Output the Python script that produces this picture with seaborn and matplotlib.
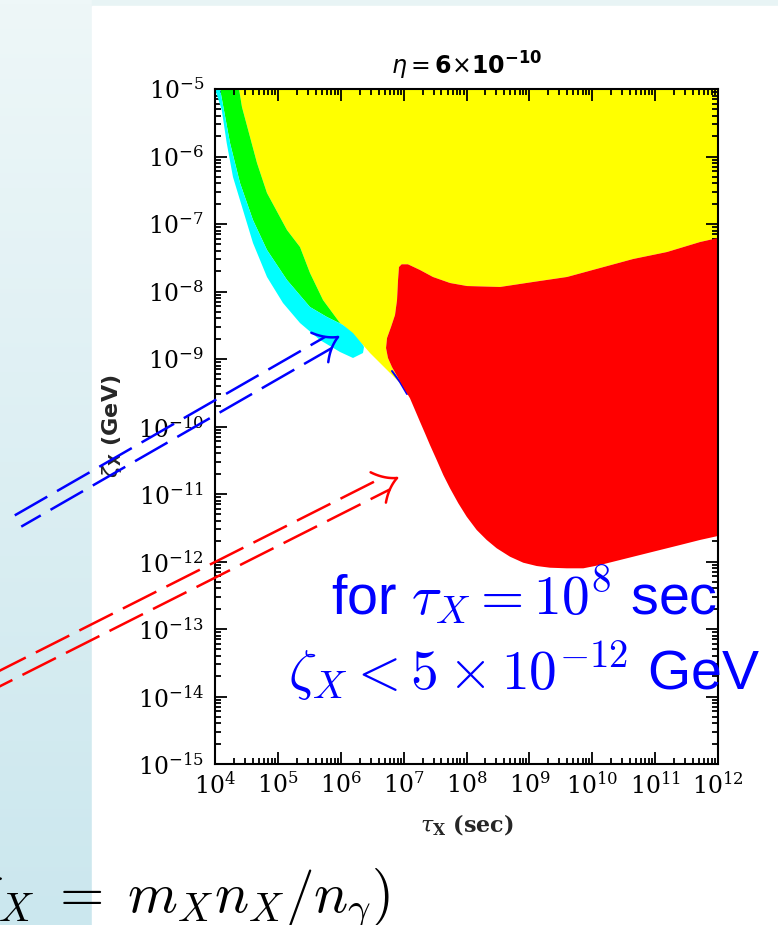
import numpy as np
import matplotlib
matplotlib.use("Agg")
import matplotlib.pyplot as plt
import seaborn as sns
from matplotlib.patches import Rectangle
from matplotlib.ticker import LogLocator, NullFormatter

# ---------------- data (log10 values) ----------------
# x = log10(tau_X / sec), y = log10(zeta_X / GeV)
cyan_outer_lt = [4.00, 4.107, 4.186, 4.286, 4.445, 4.604, 4.827, 5.081, 5.352, 5.670, 5.988, 6.195, 6.354, 6.370]
cyan_outer_lz = [-5.00, -5.311, -5.80, -6.304, -6.793, -7.281, -7.785, -8.170, -8.467, -8.719, -8.896, -8.985, -8.911, -8.822]
cyan_inner_lt = [4.08, 4.239, 4.398, 4.604, 4.827, 5.145, 5.511, 5.781, 6.036, 6.195, 6.354]
cyan_inner_lz = [-5.00, -5.80, -6.393, -6.941, -7.385, -7.830, -8.230, -8.378, -8.496, -8.615, -8.793]
green_edge_lt = [4.382, 4.429, 4.557, 4.668, 4.827, 5.145, 5.352, 5.511, 5.718, 5.988, 6.036]
green_edge_lz = [-5.00, -5.267, -5.711, -6.096, -6.541, -7.089, -7.341, -7.726, -8.126, -8.467, -8.496]
yellow_low_lt = [6.354, 6.465, 6.704, 6.911, 6.974]
yellow_low_lz = [-8.793, -8.911, -9.133, -9.326, -9.400]
red_top_lt = [6.926, 6.968, 7.069, 7.260, 7.467, 7.738, 8.008, 8.533, 9.058, 9.598, 10.123, 10.648, 11.189, 11.714, 12.0]
red_top_lz = [-7.637, -7.597, -7.597, -7.681, -7.785, -7.874, -7.919, -7.933, -7.859, -7.785, -7.652, -7.519, -7.415, -7.267, -7.207]
red_left_lt = [6.926, 6.911, 6.895, 6.863, 6.799, 6.736, 6.720, 6.751, 6.815, 6.895]
red_left_lz = [-7.637, -7.830, -8.126, -8.348, -8.526, -8.689, -8.837, -8.985, -9.119, -9.252]
red_low_lt = [6.962, 7.022, 7.101, 7.181, 7.260, 7.340, 7.419, 7.526, 7.631, 7.738, 7.870, 8.003, 8.162,
              8.321, 8.480, 8.692, 8.903, 9.117, 9.328, 9.594, 9.858, 10.123, 10.441, 10.759, 11.077,
              11.396, 11.714, 12.0]
red_low_lz = [-9.363, -9.459, -9.582, -9.756, -9.929, -10.101, -10.274, -10.496, -10.719, -10.916, -11.138,
              -11.336, -11.533, -11.681, -11.804, -11.929, -12.018, -12.067, -12.092, -12.101, -12.101,
              -12.052, -11.978, -11.904, -11.830, -11.756, -11.681, -11.622]
blue_edge_lt = [6.815, 6.942, 7.054]
blue_edge_lz = [-9.178, -9.341, -9.519]

x_exponents = list(range(4, 13))
y_exponents = list(range(-15, -4))
x_ticklabels = [f"$10^{{{e}}}$" for e in x_exponents]
y_ticklabels = [f"$10^{{{e}}}$" for e in y_exponents]
x_label = r"$\tau_{\mathbf{X}}$ (sec)"
y_label = r"$\zeta_{\mathbf{X}}$ (GeV)"
title = r"$\eta = \mathbf{6}{\times}\mathbf{10}^{\mathbf{-10}}$"
note_line1 = r"for $\tau_X = 10^8$ sec"
note_line2 = r"$\zeta_X < 5 \times 10^{-12}$ GeV"
bottom_formula = r"$(\zeta_X\;=\;m_X n_X/n_\gamma)$"

# ---------------- style ----------------
sns.set_style("ticks")
plt.rcParams["mathtext.fontset"] = "dejavuserif"
plt.rcParams["font.family"] = ["DejaVu Serif"]

W, H = 778, 925
fig = plt.figure(figsize=(W / 100, H / 100), dpi=100)
fig.patch.set_facecolor("white")

# background (slide) layer in pixel coordinates
bg = fig.add_axes([0, 0, 1, 1], zorder=0)
bg.set_xlim(0, W)
bg.set_ylim(H, 0)
bg.axis("off")
grad = np.linspace(0, 1, 256).reshape(-1, 1)
cmap = matplotlib.colors.LinearSegmentedColormap.from_list("slide", ["#eef7f8", "#cbe7ee"])
bg.imshow(grad, cmap=cmap, extent=(0, 92, H, 0), aspect="auto", zorder=0)
bg.add_patch(Rectangle((92, 0), W - 92, 6, color="#e8f4f5", zorder=1))
bg.add_patch(Rectangle((92, 6), W - 92, H - 6, color="white", zorder=1))

# main chart
ax = fig.add_axes([215 / W, (H - 764) / H, 503 / W, 675 / H], zorder=2)
ax.set_facecolor("white")
ax.set_xscale("log")
ax.set_yscale("log")
ax.set_xlim(10.0 ** x_exponents[0], 10.0 ** x_exponents[-1])
ax.set_ylim(10.0 ** y_exponents[0], 10.0 ** y_exponents[-1])


def P(lt, lz):
    return 10.0 ** np.asarray(lt), 10.0 ** np.asarray(lz)


# yellow region
ylt = green_edge_lt + yellow_low_lt + red_left_lt[::-1] + red_top_lt + [x_exponents[-1]]
ylz = green_edge_lz + yellow_low_lz + red_left_lz[::-1] + red_top_lz + [y_exponents[-1]]
ax.fill(*P(ylt, ylz), color="#ffff00", lw=0, zorder=1)
# green band
glt = cyan_inner_lt[:9] + green_edge_lt[::-1]
glz = cyan_inner_lz[:9] + green_edge_lz[::-1]
ax.fill(*P(glt, glz), color="#00ff00", lw=0, zorder=2)
# cyan band
clt = cyan_outer_lt + cyan_inner_lt[::-1]
clz = cyan_outer_lz + cyan_inner_lz[::-1]
ax.fill(*P(clt, clz), color="#00ffff", lw=0, zorder=3)
# small blue edge
ax.plot(*P(blue_edge_lt, blue_edge_lz), color="#0000ff", lw=1.4, zorder=4)
# red region
rlt = red_left_lt + red_low_lt + red_top_lt[::-1]
rlz = red_left_lz + red_low_lz + red_top_lz[::-1]
ax.fill(*P(rlt, rlz), color="#ff0000", lw=0, zorder=5)

# ticks
ax.set_xticks([10.0 ** e for e in x_exponents], x_ticklabels)
ax.set_yticks([10.0 ** e for e in y_exponents], y_ticklabels)
ax.xaxis.set_minor_locator(LogLocator(base=10, subs=np.arange(2, 10), numticks=200))
ax.yaxis.set_minor_locator(LogLocator(base=10, subs=np.arange(2, 10), numticks=200))
ax.xaxis.set_minor_formatter(NullFormatter())
ax.yaxis.set_minor_formatter(NullFormatter())
ax.tick_params(which="both", direction="in", top=True, right=True, width=1.3, color="black",
               labelcolor="black", labelsize=17)
ax.tick_params(which="major", length=8.5)
ax.tick_params(which="minor", length=4.3)
ax.tick_params(axis="y", which="major", pad=8)
ax.tick_params(axis="x", which="major", pad=6)
for sp in ax.spines.values():
    sp.set_linewidth(1.5)
    sp.set_color("black")
    sp.set_zorder(10)
ax.set_axisbelow(False)

ax.set_xlabel(x_label, fontsize=16, fontweight="bold", family="DejaVu Serif",
              math_fontfamily="dejavuserif", va="center")
ax.xaxis.set_label_coords(0.5, (764 - 825) / 675)
ax.set_ylabel(y_label, fontsize=16, fontweight="bold", family="DejaVu Sans",
              math_fontfamily="dejavusans", va="center")
ax.yaxis.set_label_coords((112 - 215) / 503, 0.5)

# overlay layer (pixel coordinates) for title, notes and arrows
ov = fig.add_axes([0, 0, 1, 1], zorder=5)
ov.set_xlim(0, W)
ov.set_ylim(H, 0)
ov.axis("off")
ov.patch.set_alpha(0)

ov.text(467, 75, title, ha="center", va="baseline", fontsize=17, color="black",
        math_fontfamily="dejavusans")
ov.text(524, 615, note_line1, ha="center", va="baseline", fontsize=40, color="#0000ff",
        family="Liberation Sans", math_fontfamily="cm")
ov.text(524, 690, note_line2, ha="center", va="baseline", fontsize=40, color="#0000ff",
        family="Liberation Sans", math_fontfamily="cm")
ov.text(390, 913, bottom_formula, ha="right", va="baseline", fontsize=41, color="black",
        math_fontfamily="cm")


def double_arrow(tail, tip, color, sep=13.0, dash=(15, 4.5), offs=(0, 6)):
    t = np.asarray(tail, float)
    h = np.asarray(tip, float)
    d = (h - t) / np.linalg.norm(h - t)
    n = np.array([-d[1], d[0]])
    for s, o in zip((-1, 1), offs):
        p0 = t + s * sep / 2 * n
        p1 = h - 11 * d + s * sep / 2 * n
        ov.plot([p0[0], p1[0]], [p0[1], p1[1]], color=color, lw=1.8,
                ls=(o, dash), dash_capstyle="butt")
    u = np.linspace(0, 1, 20)[:, None]
    for s in (-1, 1):
        b = h - 21 * d + s * 17 * n
        c = h - 12 * d + s * 5 * n
        pts = (1 - u) ** 2 * b + 2 * (1 - u) * u * c + u ** 2 * h
        ov.plot(pts[:, 0], pts[:, 1], color=color, lw=1.8, solid_capstyle="round")


double_arrow((18, 521), (338, 337), "#0000ff")
double_arrow((-25, 691), (397, 478), "#ff0000", sep=14.0, offs=(3, 9))

fig.savefig("out.png", dpi=100)
